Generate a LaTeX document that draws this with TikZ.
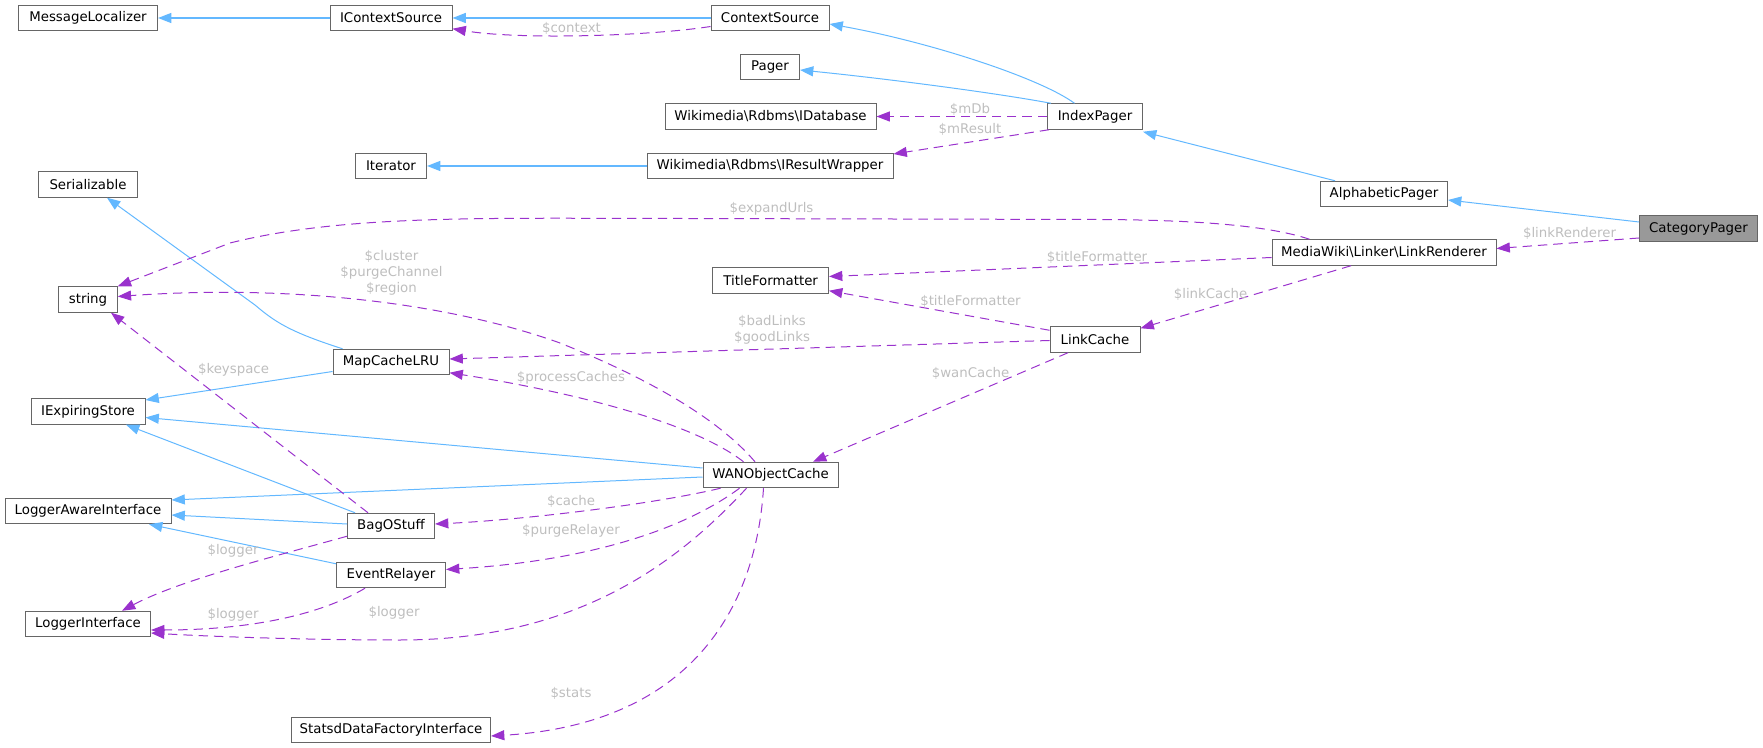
\documentclass[tikz,border=0pt]{standalone}
\usepackage{fontspec}
\setmainfont{DejaVu Sans}
\usetikzlibrary{arrows.meta,calc}
\definecolor{inhc}{HTML}{63B8FF}
\definecolor{relc}{HTML}{9A32CD}
\definecolor{bordc}{HTML}{666666}
\definecolor{labc}{HTML}{BEBEBE}
\definecolor{curc}{HTML}{999999}
\begin{document}
\begin{tikzpicture}[x=0.75pt,y=-0.75pt,font=\fontsize{10}{12}\selectfont,
  cls/.style={draw=bordc, fill=white, line width=0.75pt, minimum height=19.1pt, inner sep=0pt, anchor=center},
  bw/.style={minimum width=#1*0.75pt},
  inh/.style={draw=inhc, line width=0.75pt, -{Triangle[length=10pt,width=7.5pt]}},
  rel/.style={draw=relc, line width=0.75pt, dash pattern=on 7pt off 4.5pt, -{Triangle[length=10pt,width=7.5pt]}},
  lab/.style={text=labc, inner sep=0pt, align=center}]
\useasboundingbox (0,0) rectangle (1763,748);

% classes
\node[cls,bw=139] (ml) at (88,18) {MessageLocalizer};
\node[cls,bw=122] (ics) at (391,18) {IContextSource};
\node[cls,bw=118] (cs) at (770,18) {ContextSource};
\node[cls,bw=59] (pg) at (770,67) {Pager};
\node[cls,bw=211] (idb) at (770.5,116.5) {Wikimedia\textbackslash Rdbms\textbackslash IDatabase};
\node[cls,bw=95] (ip) at (1095,116.5) {IndexPager};
\node[cls,bw=71] (it) at (391,166) {Iterator};
\node[cls,bw=246] (irw) at (770,166) {Wikimedia\textbackslash Rdbms\textbackslash IResultWrapper};
\node[cls,bw=99] (ser) at (88,184.5) {Serializable};
\node[cls,bw=127] (ap) at (1384,194) {AlphabeticPager};
\node[cls,bw=118,fill=curc] (cp) at (1698.5,228.5) {CategoryPager};
\node[cls,bw=224] (lr) at (1384,252.5) {MediaWiki\textbackslash Linker\textbackslash LinkRenderer};
\node[cls,bw=58.5] (str) at (88,299.5) {string};
\node[cls,bw=115.6] (tf) at (770.7,280.5) {TitleFormatter};
\node[cls,bw=90] (lc) at (1095,339.5) {LinkCache};
\node[cls,bw=116] (mc) at (391,362) {MapCacheLRU};
\node[cls,bw=114] (ies) at (88,411.5) {IExpiringStore};
\node[cls,bw=135] (wan) at (770.5,475) {WANObjectCache};
\node[cls,bw=166] (lai) at (88,511) {LoggerAwareInterface};
\node[cls,bw=87] (bos) at (391,526) {BagOStuff};
\node[cls,bw=109] (er) at (391,575) {EventRelayer};
\node[cls,bw=125] (li) at (88,624) {LoggerInterface};
\node[cls,bw=199] (sd) at (391,730) {StatsdDataFactoryInterface};

% inheritance
\draw[inh,line width=1.1pt] (ics.west) -- (ml.east);
\draw[inh,line width=1.1pt] (cs.west) -- (ics.east);
\draw[inh] ($(ip.north)+(-20.5,0)$) .. controls (1040,78) and (930,42) .. ($(cs.east)+(0,6)$);
\draw[inh] ($(ip.north west)+(4,0)$) .. controls (990,92) and (880,78) .. ($(pg.east)+(0,3)$);
\draw[inh,line width=1.1pt] (irw.west) -- (it.east);
\draw[inh] ($(ap.north west)+(15,0)$) -- ($(ip.south east)+(0,2)$);
\draw[inh] ($(cp.west)+(0,-6.5)$) -- ($(ap.east)+(0,6)$);
\draw[inh] ($(mc.north)+(-48.5,0)$) .. controls (290,332) and (275,322) .. (255,305) -- ($(ser.south)+(19,0)$);
\draw[inh] ($(mc.west)+(0,9.5)$) -- ($(ies.east)+(0,-11.5)$);
\draw[inh] ($(wan.west)+(0,-7)$) -- ($(ies.east)+(0,6)$);
\draw[inh] ($(wan.west)+(0,2)$) -- ($(lai.east)+(0,-11)$);
\draw[inh] ($(bos.north west)+(8,0)$) -- ($(ies.south)+(38,0)$);
\draw[inh] ($(bos.west)+(0,-2)$) -- ($(lai.east)+(0,4)$);
\draw[inh] ($(er.north west)+(0,2)$) -- ($(lai.south)+(61,0)$);

% relations
\draw[rel] ($(cs.west)+(0,8.5)$) .. controls (650,36) and (520,40) .. ($(ics.south east)+(0,-2.5)$);
\node[lab] (l1) at (571.5,28.5) {\$context};
\draw[rel] (ip.west) -- (idb.east);
\node[lab] (l2) at (970,109) {\$mDb};
\draw[rel] ($(ip.south west)+(2,0)$) -- ($(irw.east)+(0,-12)$);
\node[lab] (l3) at (970,129) {\$mResult};
\draw[rel] ($(lr.north west)+(38,0)$) .. controls (1270,226) and (1200,220) .. (1100,219.5) -- (600,218.3) .. controls (450,218) and (330,218) .. (230,243) -- (str.north east);
\node[lab] (l4) at (771.5,209) {\$expandUrls};
\draw[rel] ($(lr.west)+(0,5)$) -- ($(tf.east)+(0,-4)$);
\node[lab] (l5) at (1097,257) {\$titleFormatter};
\draw[rel] ($(lr.south)+(-33,0)$) -- ($(lc.north east)+(0,2)$);
\node[lab] (l6) at (1210.6,294) {\$linkCache};
\draw[rel] ($(cp.west)+(0,9.5)$) -- ($(lr.east)+(0,-4)$);
\node[lab] (l7) at (1569.5,233) {\$linkRenderer};
\draw[rel] ($(lc.north west)+(0,4)$) -- ($(tf.south east)+(0,-3)$);
\node[lab] (l8) at (970.5,301) {\$titleFormatter};
\draw[rel] ($(lc.west)+(0,1)$) -- ($(mc.east)+(0,-3)$);
\node[lab] (l9) at (772,330) {\$badLinks\\\$goodLinks};
\draw[rel] ($(lc.south)+(-27,0)$) -- ($(wan.north east)+(-25.5,0)$);
\node[lab] (l10) at (970.5,373) {\$wanCache};
\draw[rel] ($(wan.north)+(-15.5,0)$) .. controls (715,415) and (640,375) .. (560,343) .. controls (440,300) and (280,285) .. ($(str.east)+(0,-3)$);
\node[lab] (l11) at (391.5,273) {\$cluster\\\$purgeChannel\\\$region};
\draw[rel] ($(wan.north)+(-27,0)$) .. controls (690,420) and (560,390) .. ($(mc.south east)+(0,-2.5)$);
\node[lab] (l12) at (571,378) {\$processCaches};
\draw[rel] ($(bos.north west)+(21,0)$) -- ($(str.south)+(23,0)$);
\node[lab] (l13) at (233.5,370) {\$keyspace};
\draw[rel] ($(wan.south west)+(18,0)$) .. controls (650,505) and (520,520) .. ($(bos.east)+(0,-2)$);
\node[lab] (l14) at (571,501) {\$cache};
\draw[rel] ($(wan.south west)+(37,0)$) .. controls (690,525) and (600,560) .. ($(er.east)+(0,-5.5)$);
\node[lab] (l15) at (571,531) {\$purgeRelayer};
\draw[rel] ($(wan.south west)+(44,0)$) .. controls (680,560) and (580,640) .. (400,640) .. controls (300,640) and (200,636) .. ($(li.east)+(0,9)$);
\node[lab] (l16) at (394,613) {\$logger};
\draw[rel] ($(bos.south west)+(0,-3)$) .. controls (280,555) and (180,580) .. ($(li.north)+(34,0)$);
\node[lab] (l17) at (233,551) {\$logger};
\draw[rel] ($(er.south west)+(29,0)$) .. controls (320,615) and (250,630) .. ($(li.east)+(0,6)$);
\node[lab] (l18) at (233,615) {\$logger};
\draw[rel] ($(wan.south west)+(61,0)$) .. controls (755,620) and (680,725) .. ($(sd.east)+(0,6)$);
\node[lab] (l19) at (571,693) {\$stats};
\end{tikzpicture}
\end{document}
